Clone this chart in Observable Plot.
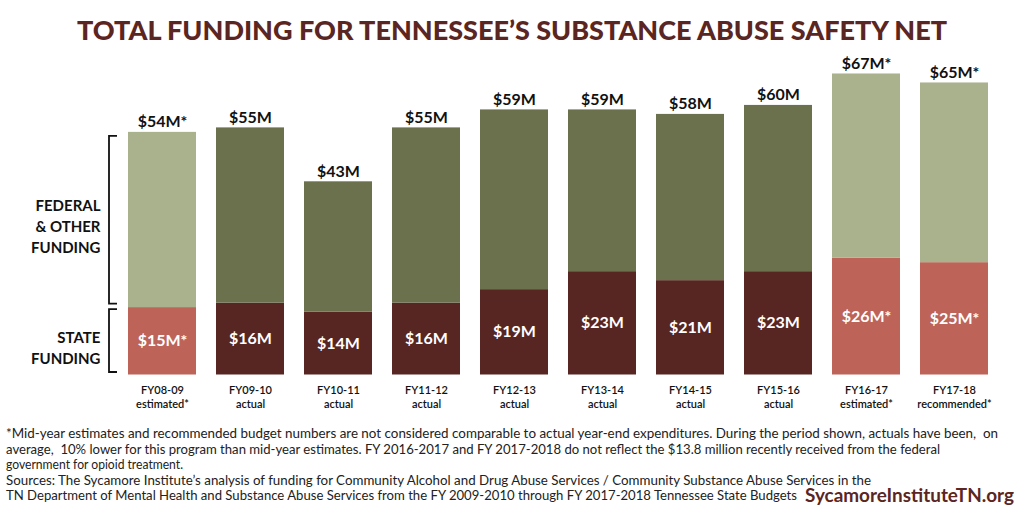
<!DOCTYPE html>
<html>
<head>
<meta charset="utf-8">
<script src="https://cdn.jsdelivr.net/npm/d3@7"></script>
<script src="https://cdn.jsdelivr.net/npm/@observablehq/plot@0.6"></script>
<style>
  html, body { margin: 0; padding: 0; background: #fff; }
  #chart { width: 1024px; height: 512px; overflow: hidden; }
  svg { font-family: Lato, "Open Sans", sans-serif; }
</style>
</head>
<body>
<div id="chart"></div>
<script>
// ---- data ----
const years = ["FY08-09", "FY09-10", "FY10-11", "FY11-12", "FY12-13", "FY13-14", "FY14-15", "FY15-16", "FY16-17", "FY17-18"];
const statusLabels = ["estimated*", "actual", "actual", "actual", "actual", "actual", "actual", "actual", "estimated*", "recommended*"];
const estimated = [true, false, false, false, false, false, false, false, true, true];
const stateFunding = [15, 16, 14, 16, 19, 23, 21, 23, 26, 25];
const totalFunding = [54, 55, 43, 55, 59, 59, 58, 60, 67, 65];
const sideLabels = ["FEDERAL\n& OTHER\nFUNDING", "STATE\nFUNDING"];
const titleText = "TOTAL FUNDING FOR TENNESSEE\u2019S SUBSTANCE ABUSE SAFETY NET";
const footLines = [
  "*Mid-year estimates and recommended budget numbers are not considered comparable to actual year-end expenditures. During the period shown, actuals have been,  on",
  "average,  10% lower for this program than mid-year estimates. FY 2016-2017 and FY 2017-2018 do not reflect the $13.8 million recently received from the federal",
  "government for opioid treatment.",
  "Sources: The Sycamore Institute\u2019s analysis of funding for Community Alcohol and Drug Abuse Services / Community Substance Abuse Services in the",
  "TN Department of Mental Health and Substance Abuse Services from the FY 2009-2010 through FY 2017-2018 Tennessee State Budgets"
];
const footLineEnds = [998, 940, 183, 871, 797];
const brandText = "SycamoreInstituteTN.org";

// ---- colors ----
const C = {
  fedActual: "#6a714c", fedEst: "#a9b18d",
  stateActual: "#572622", stateEst: "#be6358",
  title: "#5b2622"
};

const rows = years.map((y, i) => ({
  year: y,
  status: statusLabels[i],
  est: estimated[i],
  state: stateFunding[i],
  total: totalFunding[i],
  stateLabel: "$" + stateFunding[i] + "M" + (estimated[i] ? "*" : ""),
  totalLabel: "$" + totalFunding[i] + "M" + (estimated[i] ? "*" : "")
}));
const first = rows[0];

const plot = Plot.plot({
  width: 1024,
  height: 512,
  marginTop: 60,
  marginBottom: 137.5,
  marginLeft: 106.7,
  marginRight: 14,
  x: { domain: years, padding: 0.23, axis: null },
  y: { domain: [0, 70], axis: null },
  marks: [
    Plot.barY(rows, { x: "year", y1: 0, y2: "state", fill: d => d.est ? C.stateEst : C.stateActual }),
    Plot.barY(rows, { x: "year", y1: "state", y2: "total", fill: d => d.est ? C.fedEst : C.fedActual }),
    Plot.text(rows, { x: "year", y: d => d.state / 2, text: "stateLabel", fill: "white", fontSize: 16, fontWeight: "bold" }),
    Plot.text(rows, { x: "year", y: "total", text: "totalLabel", fill: "#111", fontSize: 16, fontWeight: "bold", lineAnchor: "bottom", dy: -5 }),
    Plot.text(rows, { x: "year", frameAnchor: "bottom", text: d => d.year + "\n" + d.status, fill: "#111", fontSize: 11, fontWeight: 600, lineAnchor: "top", dy: 9, lineHeight: 1.25 }),
    Plot.text([first], { x: "year", y: d => (d.state + d.total) / 2, text: () => sideLabels[0], textAnchor: "end", dx: -62, dy: 5, fontSize: 15, fontWeight: "bold", fill: "#111", lineHeight: 1.4 }),
    Plot.text([first], { x: "year", y: d => d.state / 2, text: () => sideLabels[1], textAnchor: "end", dx: -62, dy: 5, fontSize: 15, fontWeight: "bold", fill: "#111", lineHeight: 1.4 })
  ]
});

document.getElementById("chart").appendChild(plot);

// ---- brackets, drawn through the plot's own scales ----
const sx = plot.scale("x"), sy = plot.scale("y");
const svg = d3.select(plot);
const bx = sx.apply(first.year) - 19;
const bracket = (top, bottom) => `M${bx + 8},${top}H${bx}V${bottom}H${bx + 8}`;
svg.append("path")
  .attr("d", bracket(sy.apply(first.total) + 4, sy.apply(first.state) - 3.5))
  .attr("fill", "none").attr("stroke", "#111").attr("stroke-width", 1.8);
svg.append("path")
  .attr("d", bracket(sy.apply(first.state) + 2, sy.apply(0) - 2.5))
  .attr("fill", "none").attr("stroke", "#111").attr("stroke-width", 1.8);

// ---- title ----
svg.append("text")
  .attr("x", 77).attr("y", 40)
  .attr("text-anchor", "start")
  .attr("textLength", 870).attr("lengthAdjust", "spacingAndGlyphs")
  .attr("fill", C.title).attr("font-size", 27).attr("font-weight", 900)
  .attr("font-family", "Lato, sans-serif")
  .text(titleText);

// ---- footnotes ----
const footCenters = [434, 449.5, 465, 480.5, 496];
footLines.forEach((t, i) => {
  svg.append("text")
    .attr("x", 6).attr("y", footCenters[i] + 4)
    .attr("text-anchor", "start")
    .attr("textLength", footLineEnds[i] - 6).attr("lengthAdjust", "spacingAndGlyphs")
    .attr("fill", "#222").attr("font-size", 12.5)
    .attr("font-family", "Lato, sans-serif")
    .text(t);
});
svg.append("text")
  .attr("x", 805).attr("y", 502)
  .attr("text-anchor", "start")
  .attr("textLength", 209).attr("lengthAdjust", "spacingAndGlyphs")
  .attr("fill", C.title).attr("font-size", 19).attr("font-weight", "bold")
  .attr("font-family", "Lato, sans-serif")
  .text(brandText);
</script>
</body>
</html>
